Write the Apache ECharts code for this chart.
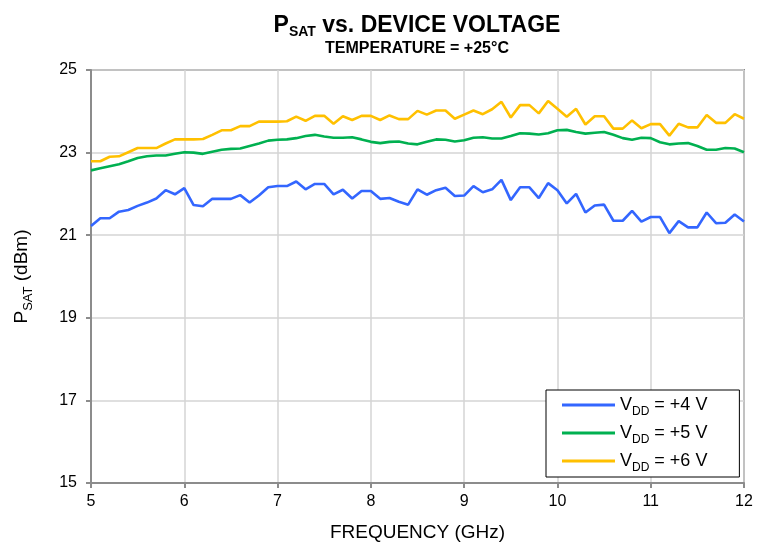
<!DOCTYPE html>
<html>
<head>
<meta charset="utf-8">
<script src="https://cdn.jsdelivr.net/npm/echarts@6/dist/echarts.min.js"></script>
<style>
  html, body { margin: 0; padding: 0; background: #fff; }
  #chart { width: 772px; height: 548px; }
</style>
</head>
<body>
<div id="chart"></div>
<script>
// frequency points, GHz
const freq = [
  5.0, 5.1, 5.2, 5.3, 5.4, 5.5, 5.6, 5.7, 5.8, 5.9,
  6.0, 6.1, 6.2, 6.3, 6.4, 6.5, 6.6, 6.7, 6.8, 6.9,
  7.0, 7.1, 7.2, 7.3, 7.4, 7.5, 7.6, 7.7, 7.8, 7.9,
  8.0, 8.1, 8.2, 8.3, 8.4, 8.5, 8.6, 8.7, 8.8, 8.9,
  9.0, 9.1, 9.2, 9.3, 9.4, 9.5, 9.6, 9.7, 9.8, 9.9,
  10.0, 10.1, 10.2, 10.3, 10.4, 10.5, 10.6, 10.7, 10.8, 10.9,
  11.0, 11.1, 11.2, 11.3, 11.4, 11.5, 11.6, 11.7, 11.8, 11.9,
  12.0
];

// PSAT (dBm), VDD = +4 V
const vdd4 = [
  21.22, 21.41, 21.41, 21.57, 21.61, 21.71, 21.79, 21.89, 22.09, 21.99,
  22.14, 21.73, 21.70, 21.88, 21.88, 21.88, 21.97, 21.79, 21.96, 22.16,
  22.19, 22.19, 22.30, 22.11, 22.24, 22.24, 21.99, 22.10, 21.89, 22.07,
  22.07, 21.88, 21.90, 21.81, 21.74, 22.11, 21.98, 22.09, 22.15, 21.95,
  21.96, 22.19, 22.04, 22.11, 22.34, 21.85, 22.16, 22.16, 21.90, 22.26,
  22.09, 21.77, 22.00, 21.55, 21.72, 21.74, 21.35, 21.35, 21.59, 21.33,
  21.44, 21.44, 21.05, 21.34, 21.19, 21.19, 21.55, 21.29, 21.30, 21.50,
  21.33
];

// PSAT (dBm), VDD = +5 V
const vdd5 = [
  22.57, 22.62, 22.67, 22.72, 22.79, 22.87, 22.91, 22.93, 22.93, 22.97,
  23.01, 23.00, 22.97, 23.02, 23.07, 23.09, 23.10, 23.16, 23.22, 23.29,
  23.31, 23.32, 23.35, 23.40, 23.43, 23.39, 23.36, 23.36, 23.37, 23.32,
  23.26, 23.23, 23.26, 23.27, 23.22, 23.20, 23.26, 23.32, 23.31, 23.27,
  23.30, 23.36, 23.37, 23.34, 23.34, 23.40, 23.47, 23.46, 23.44, 23.47,
  23.54, 23.55, 23.50, 23.46, 23.48, 23.50, 23.43, 23.35, 23.31, 23.36,
  23.35, 23.25, 23.20, 23.22, 23.23, 23.16, 23.07, 23.07, 23.11, 23.10,
  23.01
];

// PSAT (dBm), VDD = +6 V
const vdd6 = [
  22.79, 22.79, 22.90, 22.91, 23.01, 23.11, 23.11, 23.11, 23.22, 23.32,
  23.32, 23.32, 23.33, 23.43, 23.54, 23.54, 23.64, 23.64, 23.75, 23.75,
  23.75, 23.76, 23.87, 23.77, 23.89, 23.89, 23.70, 23.88, 23.79, 23.89,
  23.89, 23.79, 23.90, 23.81, 23.81, 24.01, 23.92, 24.02, 24.02, 23.82,
  23.92, 24.02, 23.93, 24.05, 24.23, 23.85, 24.15, 24.15, 23.95, 24.25,
  24.06, 23.87, 24.06, 23.68, 23.88, 23.88, 23.58, 23.58, 23.78, 23.59,
  23.69, 23.69, 23.41, 23.70, 23.61, 23.61, 23.91, 23.72, 23.72, 23.93,
  23.82
];

const seriesNames = ['+4 V', '+5 V', '+6 V'];
const seriesColors = ['#3366ff', '#00b050', '#ffc000'];
const xTicks = [5, 12, 1];   // min, max, step
const yTicks = [15, 25, 2];

const FONT = '"Liberation Sans", Arial, sans-serif';
const frameColor = '#8c8c8c';

let chart = echarts.init(document.getElementById('chart'));

function pairs(ys) {
  return freq.map((f, i) => [f, ys[i]]);
}

function makeSeries(name, ys, color) {
  return {
    name: name,
    type: 'line',
    data: pairs(ys),
    showSymbol: false,
    symbol: 'none',
    lineStyle: { color: color, width: 2.6 },
    itemStyle: { color: color },
    z: 3
  };
}

let option = {
  animation: false,
  backgroundColor: '#fff',
  textStyle: { fontFamily: FONT },
  grid: {
    left: 91, right: 28, top: 70, bottom: 65,
    show: true,
    borderColor: frameColor,
    borderWidth: 2
  },
  graphic: [
    {
      type: 'text',
      x: 417, y: 11,
      style: {
        text: '{p|P}{s|SAT}{p| vs. DEVICE VOLTAGE}',
        align: 'center',
        fill: '#000',
        rich: {
          p: { fontFamily: FONT, fontWeight: 'bold', fontSize: 23, lineHeight: 28, verticalAlign: 'bottom', padding: [0, 0, 2, 0] },
          s: { fontFamily: FONT, fontWeight: 'bold', fontSize: 14, lineHeight: 18, verticalAlign: 'bottom' }
        }
      }
    },
    {
      type: 'text',
      x: 417, y: 41,
      style: {
        text: 'TEMPERATURE = +25°C',
        align: 'center',
        fill: '#000',
        font: 'bold 16px ' + FONT
      }
    }
  ],
  legend: {
    orient: 'vertical',
    left: 546,
    top: 390,
    data: seriesNames,
    itemWidth: 53,
    itemHeight: 3,
    itemGap: 6,
    icon: 'rect',
    backgroundColor: '#fff',
    borderColor: '#000',
    borderWidth: 1,
    borderRadius: 0,
    padding: [6, 32, 3, 16],
    formatter: function (name) {
      return '{n|V}{s|DD}{n| = ' + name + '}';
    },
    textStyle: {
      color: '#000',
      rich: {
        n: { fontFamily: FONT, fontSize: 18, lineHeight: 20, verticalAlign: 'bottom', padding: [0, 0, 1, 0] },
        s: { fontFamily: FONT, fontSize: 12, lineHeight: 14, verticalAlign: 'bottom', padding: [0, 0, -3, 0] }
      }
    },
    z: 10
  },
  xAxis: {
    type: 'value',
    min: xTicks[0],
    max: xTicks[1],
    interval: xTicks[2],
    name: 'FREQUENCY (GHz)',
    nameLocation: 'middle',
    nameGap: 40,
    nameTextStyle: { fontFamily: FONT, fontSize: 19, color: '#000' },
    axisLine: { show: true, onZero: false, lineStyle: { color: frameColor, width: 2 } },
    axisTick: { show: true, inside: false, length: 5, lineStyle: { color: frameColor, width: 2 } },
    axisLabel: { color: '#000', fontFamily: FONT, fontSize: 16, margin: 11 },
    splitLine: { show: true, lineStyle: { color: '#d4d4d4', width: 1.5 } }
  },
  yAxis: {
    type: 'value',
    min: yTicks[0],
    max: yTicks[1],
    interval: yTicks[2],
    name: '{p|P}{s|SAT}{p| (dBm)}',
    nameLocation: 'middle',
    nameRotate: 90,
    nameGap: 58,
    nameTextStyle: {
      color: '#000',
      rich: {
        p: { fontFamily: FONT, fontSize: 19, lineHeight: 24, verticalAlign: 'bottom', padding: [0, 0, 2, 0] },
        s: { fontFamily: FONT, fontSize: 13, lineHeight: 16, verticalAlign: 'bottom', padding: [0, 0, -2, 0] }
      }
    },
    axisLine: { show: true, onZero: false, lineStyle: { color: frameColor, width: 2 } },
    axisTick: { show: true, inside: false, length: 5, lineStyle: { color: frameColor, width: 2 } },
    axisLabel: { color: '#000', fontFamily: FONT, fontSize: 16, margin: 14 },
    splitLine: { show: true, lineStyle: { color: '#d4d4d4', width: 1.5 } }
  },
  series: [
    makeSeries(seriesNames[0], vdd4, seriesColors[0]),
    makeSeries(seriesNames[1], vdd5, seriesColors[1]),
    makeSeries(seriesNames[2], vdd6, seriesColors[2])
  ]
};

option && chart.setOption(option);
</script>
</body>
</html>
